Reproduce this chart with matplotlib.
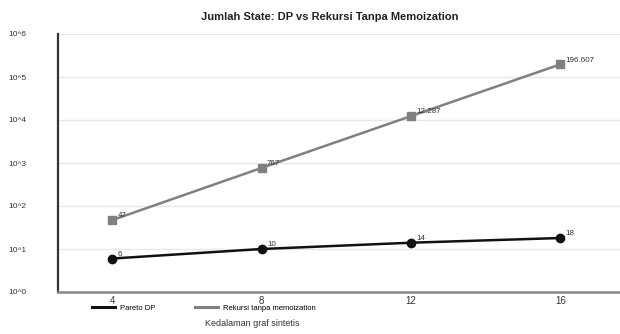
import math
import matplotlib
matplotlib.use("Agg")
import matplotlib.pyplot as plt
from matplotlib.lines import Line2D
from matplotlib.ticker import FixedLocator, FuncFormatter, NullLocator

plt.rcParams['font.family'] = ['Liberation Sans', 'DejaVu Sans']

kedalaman = [4, 8, 12, 16]
pareto_dp = [6, 10, 14, 18]
rekursi = [47, 767, 12287, 196607]


def fmt_id(v):
    # 12287 -> "12.287"
    return f"{v:,}".replace(",", ".")


fig = plt.figure(figsize=(6.2, 3.34), dpi=100)
ax = fig.add_axes([58 / 620, 1 - 292 / 334, 1 - 58 / 620, (292 - 34) / 334])

ax.set_yscale('log')
ax.set_ylim(1, 1e6)
ax.set_xlim(2.55, 17.6)

ax.yaxis.set_major_locator(FixedLocator([10 ** i for i in range(7)]))
ax.yaxis.set_minor_locator(NullLocator())
ax.yaxis.set_major_formatter(FuncFormatter(lambda v, p: "10^%d" % round(math.log10(v))))
ax.set_xticks(kedalaman)
ax.set_xticklabels([str(k) for k in kedalaman])

ax.grid(axis='y', color='#e8e8e8', linewidth=1)
ax.set_axisbelow(True)
ax.tick_params(axis='y', length=0, pad=35.5, labelsize=6, labelcolor='#333333')
ax.tick_params(axis='x', length=0, pad=3, labelsize=7, labelcolor='#333333')
for lbl in ax.get_yticklabels():
    lbl.set_horizontalalignment('left')

for s in ['top', 'right']:
    ax.spines[s].set_visible(False)
ax.spines['left'].set_color('#333333')
ax.spines['left'].set_linewidth(1.6)
ax.spines['bottom'].set_color('#888888')
ax.spines['bottom'].set_linewidth(1.8)

ax.plot(kedalaman, pareto_dp, color='#111111', linewidth=1.8, marker='o',
        markersize=6, zorder=3)
ax.plot(kedalaman, rekursi, color='#808080', linewidth=1.8, marker='s',
        markersize=5.5, zorder=3)

for x, y in zip(kedalaman, pareto_dp):
    ax.annotate(fmt_id(y), (x, y), xytext=(4, 2), textcoords='offset points',
                fontsize=5.8, color='#333333')
for x, y in zip(kedalaman, rekursi):
    ax.annotate(fmt_id(y), (x, y), xytext=(4, 2), textcoords='offset points',
                fontsize=5.8, color='#333333')

fig.text(330 / 620, 1 - 17 / 334, 'Jumlah State: DP vs Rekursi Tanpa Memoization',
         ha='center', va='center', fontsize=8, fontweight='bold', color='#222222')
fig.text(252 / 620, 1 - 323 / 334, 'Kedalaman graf sintetis',
         ha='center', va='center', fontsize=6.5, color='#333333')

handles = [Line2D([], [], color='#111111', linewidth=2.2),
           Line2D([], [], color='#808080', linewidth=2.2)]
fig.legend(handles, ['Pareto DP', 'Rekursi tanpa memoization'],
           loc='center left', bbox_to_anchor=(92 / 620, 1 - 308 / 334), ncol=2,
           frameon=False, fontsize=5.5, handlelength=3.0, handletextpad=0.6,
           columnspacing=5.3, borderpad=0, borderaxespad=0)

fig.savefig('out.png', dpi=100)
